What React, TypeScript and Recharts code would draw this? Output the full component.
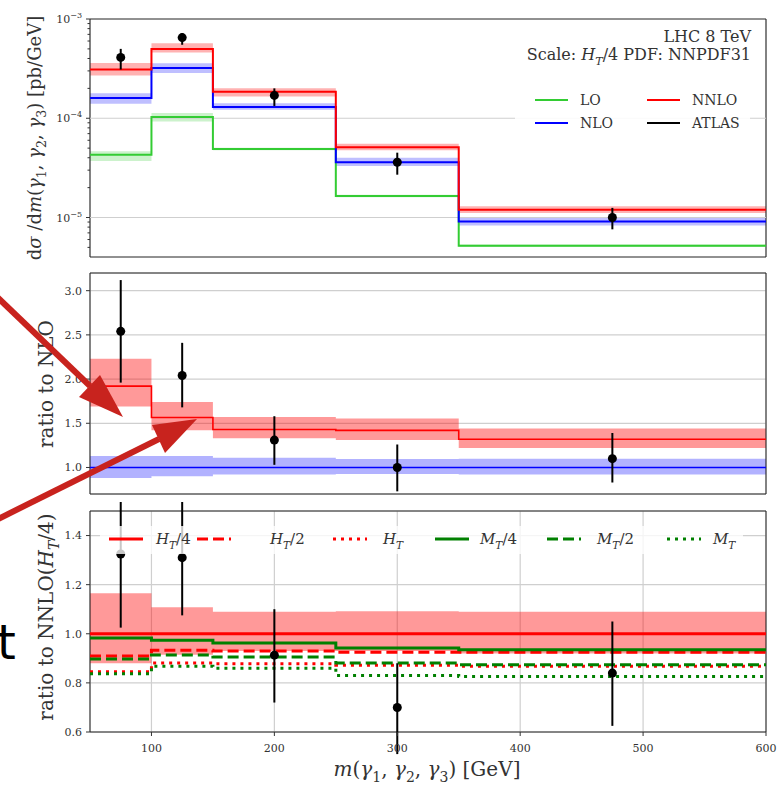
import React from "react";
import {
  ComposedChart,
  Line,
  Area,
  Scatter,
  ErrorBar,
  XAxis,
  YAxis,
  CartesianGrid,
  ReferenceLine,
  ReferenceArea,
  Legend,
} from "recharts";

// bin edges of m(γ1,γ2,γ3) in GeV
const binEdges = [50, 100, 150, 250, 350, 600];
const atlasX = [75, 125, 200, 300, 475];

// top panel: dσ/dm [pb/GeV]
const loCentral = [4.3e-5, 1.03e-4, 4.9e-5, 1.65e-5, 5.2e-6];
const loLow = [3.7e-5, 9.3e-5, 4.75e-5, 1.6e-5, 5.05e-6];
const loHigh = [4.65e-5, 1.13e-4, 5.05e-5, 1.7e-5, 5.35e-6];
const nloCentral = [1.6e-4, 3.2e-4, 1.3e-4, 3.6e-5, 9.1e-6];
const nloLow = [1.4e-4, 2.85e-4, 1.22e-4, 3.3e-5, 8.3e-6];
const nloHigh = [1.79e-4, 3.59e-4, 1.42e-4, 4.0e-5, 1.0e-5];
const nnloCentral = [3.1e-4, 5.0e-4, 1.85e-4, 5.1e-5, 1.2e-5];
const nnloLow = [2.7e-4, 4.6e-4, 1.66e-4, 4.75e-5, 1.11e-5];
const nnloHigh = [3.6e-4, 5.7e-4, 2.01e-4, 5.55e-5, 1.3e-5];
const atlasXs = [4.1e-4, 6.5e-4, 1.7e-4, 3.6e-5, 1.0e-5];
const atlasXsLow = [3.1e-4, 5.5e-4, 1.33e-4, 2.7e-5, 7.6e-6];
const atlasXsHigh = [5.0e-4, 7.2e-4, 2.0e-4, 4.5e-5, 1.25e-5];
const logTicks = [
  5e-6, 6e-6, 7e-6, 8e-6, 9e-6, 1e-5,
  2e-5, 3e-5, 4e-5, 5e-5, 6e-5, 7e-5, 8e-5, 9e-5, 1e-4,
  2e-4, 3e-4, 4e-4, 5e-4, 6e-4, 7e-4, 8e-4, 9e-4, 1e-3,
];

// middle panel: ratio to NLO
const nnloRatio = [1.92, 1.565, 1.43, 1.42, 1.32];
const nnloRatioLow = [1.69, 1.42, 1.33, 1.31, 1.22];
const nnloRatioHigh = [2.23, 1.74, 1.57, 1.555, 1.44];
const nloRatio = [1, 1, 1, 1, 1];
const nloRatioLow = [0.88, 0.9, 0.92, 0.925, 0.92];
const nloRatioHigh = [1.13, 1.13, 1.11, 1.095, 1.1];
const atlasRatio = [2.54, 2.04, 1.31, 1.0, 1.1];
const atlasRatioLow = [1.96, 1.68, 1.03, 0.73, 0.83];
const atlasRatioHigh = [3.12, 2.41, 1.58, 1.26, 1.39];
const ratioTicks = [1.0, 1.5, 2.0, 2.5, 3.0];

// bottom panel: ratio to NNLO(H_T/4), scale choices
const htQuarter = [1, 1, 1, 1, 1];
const htQuarterLow = [0.88, 0.915, 0.93, 0.93, 0.92];
const htQuarterHigh = [1.165, 1.108, 1.09, 1.092, 1.09];
const htHalf = [0.91, 0.933, 0.93, 0.925, 0.925];
const htFull = [0.845, 0.881, 0.878, 0.872, 0.868];
const mtQuarter = [0.983, 0.974, 0.962, 0.942, 0.935];
const mtHalf = [0.897, 0.914, 0.905, 0.881, 0.874];
const mtFull = [0.837, 0.868, 0.86, 0.83, 0.826];
const atlasScale = [1.325, 1.31, 0.913, 0.7, 0.84];
const atlasScaleLow = [1.025, 1.075, 0.72, 0.51, 0.625];
const atlasScaleHigh = [1.63, 1.55, 1.1, 0.88, 1.05];
const scaleTicks = [0.6, 0.8, 1.0, 1.2, 1.4];
const massTicks = [100, 200, 300, 400, 500, 600];

const FONT = "DejaVu Serif";
const INK = "#333";
const GRID = "#cfcfcf";
const ARROW = "#c8231e";

const stepRows = (vals: number[]) =>
  binEdges.map((x, i) => ({ x, y: vals[Math.min(i, vals.length - 1)] }));
const bandRows = (lo: number[], hi: number[]) =>
  binEdges.map((x, i) => {
    const j = Math.min(i, lo.length - 1);
    return { x, r: [lo[j], hi[j]] };
  });
const pointRows = (v: number[], lo: number[], hi: number[]) =>
  atlasX.map((x, i) => ({ x, y: v[i], err: [v[i] - lo[i], hi[i] - v[i]] }));

type Part = { t: string; i?: boolean; sub?: boolean };

const MathSpans = ({ parts, size }: { parts: Part[]; size: number }) => {
  let shifted = false;
  return (
    <>
      {parts.map((p, k) => {
        let dy: number | undefined;
        if (p.sub && !shifted) {
          dy = size * 0.3;
          shifted = true;
        } else if (!p.sub && shifted) {
          dy = -size * 0.3;
          shifted = false;
        }
        return (
          <tspan key={k} dy={dy} fontStyle={p.i ? "italic" : "normal"} fontSize={p.sub ? size * 0.7 : size}>
            {p.t}
          </tspan>
        );
      })}
    </>
  );
};

const gammas: Part[] = [
  { t: "(" }, { t: "γ", i: true }, { t: "1", sub: true }, { t: ", " },
  { t: "γ", i: true }, { t: "2", sub: true }, { t: ", " },
  { t: "γ", i: true }, { t: "3", sub: true },
];
const yLabelTop: Part[] = [{ t: "d" }, { t: "σ", i: true }, { t: " /d" }, { t: "m", i: true }, ...gammas, { t: ") [pb/GeV]" }];
const yLabelMid: Part[] = [{ t: "ratio to NLO" }];
const yLabelBot: Part[] = [{ t: "ratio to NNLO(" }, { t: "H", i: true }, { t: "T", i: true, sub: true }, { t: "/4)" }];
const xLabel: Part[] = [{ t: "m", i: true }, ...gammas, { t: ") [GeV]" }];
const scaleText: Part[] = [{ t: "Scale: " }, { t: "H", i: true }, { t: "T", i: true, sub: true }, { t: "/4 PDF: NNPDF31" }];

const VLabel = ({ lx, ly, parts, size = 20 }: any) => (
  <text transform={`rotate(-90, ${lx}, ${ly})`} x={lx} y={ly} textAnchor="middle" fontFamily={FONT} fontSize={size} fill={INK}>
    <MathSpans parts={parts} size={size} />
  </text>
);
const HLabel = ({ lx, ly, parts }: any) => (
  <text x={lx} y={ly} textAnchor="middle" fontFamily={FONT} fontSize={20} fill={INK}>
    <MathSpans parts={parts} size={20} />
  </text>
);

const LogTick = (props: any) => {
  const { y, payload } = props;
  const lg = Math.log10(payload.value);
  const exp = Math.round(lg);
  const major = Math.abs(lg - exp) < 1e-6;
  return (
    <g>
      <line x1={90 - (major ? 4 : 2.5)} x2={90} y1={y} y2={y} stroke={INK} />
      {major && (
        <text x={82} y={y + 4} textAnchor="end" fontFamily={FONT} fontSize={11} fill={INK}>
          10<tspan dy={-5} fontSize={8}>{"−" + -exp}</tspan>
        </text>
      )}
    </g>
  );
};

const Dot = (p: any) => <circle cx={p.cx} cy={p.cy} r={4.5} fill="#000" />;

const tickFont = { fontSize: 11, fill: INK, fontFamily: FONT };

const topItems = [
  { name: "LO", color: "#33cc33", col: 0, row: 0 },
  { name: "NNLO", color: "#ff0000", col: 1, row: 0 },
  { name: "NLO", color: "#0000ff", col: 0, row: 1 },
  { name: "ATLAS", color: "#000000", col: 1, row: 1 },
];

const TopLegend = () => (
  <svg width={260} height={115} style={{ display: "block" }}>
    <text x={251} y={17} textAnchor="end" fontFamily={FONT} fontSize={16} fill={INK}>LHC 8 TeV</text>
    <text x={251} y={35} textAnchor="end" fontFamily={FONT} fontSize={16} fill={INK}>
      <MathSpans parts={scaleText} size={16} />
    </text>
    <rect x={15} y={52} width={235} height={60} fill="#fff" fillOpacity={0.88} />
    {topItems.map((it) => {
      const x0 = 35 + it.col * 112;
      const y0 = 75 + it.row * 23;
      return (
        <g key={it.name}>
          <line x1={x0} x2={x0 + 33} y1={y0} y2={y0} stroke={it.color} strokeWidth={2} />
          <text x={x0 + 45} y={y0 + 5} fontFamily={FONT} fontSize={14} fill={INK}>{it.name}</text>
        </g>
      );
    })}
  </svg>
);

const scaleItems = [
  { label: [{ t: "H", i: true }, { t: "T", i: true, sub: true }, { t: "/4" }], color: "#ff0000", dash: undefined, x: 9, tx: 56 },
  { label: [{ t: "H", i: true }, { t: "T", i: true, sub: true }, { t: "/2" }], color: "#ff0000", dash: "11 5", x: 97, tx: 170 },
  { label: [{ t: "H", i: true }, { t: "T", i: true, sub: true }], color: "#ff0000", dash: "3 5", x: 233, tx: 283 },
  { label: [{ t: "M", i: true }, { t: "T", i: true, sub: true }, { t: "/4" }], color: "#008000", dash: undefined, x: 335, tx: 380 },
  { label: [{ t: "M", i: true }, { t: "T", i: true, sub: true }, { t: "/2" }], color: "#008000", dash: "11 5", x: 447, tx: 497 },
  { label: [{ t: "M", i: true }, { t: "T", i: true, sub: true }], color: "#008000", dash: "3 5", x: 567, tx: 613 },
];

const ScaleLegend = () => (
  <svg width={643} height={28} style={{ display: "block" }}>
    <rect x={0} y={0} width={643} height={28} fill="#fff" fillOpacity={0.78} />
    {scaleItems.map((it, k) => (
      <g key={k}>
        <line x1={it.x} x2={it.x + 34} y1={13} y2={13} stroke={it.color} strokeWidth={3} strokeDasharray={it.dash} />
        <text x={it.tx} y={18} fontFamily={FONT} fontSize={15} fill={INK}>
          <MathSpans parts={it.label as Part[]} size={15} />
        </text>
      </g>
    ))}
  </svg>
);

const TopPanel = () => (
  <ComposedChart width={782} height={265} margin={{ top: 19, right: 16, bottom: 0, left: 0 }}>
    <CartesianGrid horizontal={false} stroke={GRID} strokeWidth={1.2} />
    <XAxis type="number" dataKey="x" domain={[50, 600]} ticks={massTicks} interval={0} allowDataOverflow
      tick={false} tickSize={4} tickLine={{ stroke: INK }} axisLine={false} height={8} />
    <YAxis type="number" scale="log" domain={[4e-6, 1e-3]} allowDataOverflow ticks={logTicks} interval={0}
      tick={<LogTick />} tickLine={false} axisLine={false} width={90}
      label={<VLabel lx={41} ly={138} parts={yLabelTop} size={18} />} />
    <ReferenceLine y={1e-5} stroke={GRID} strokeWidth={1.2} />
    <ReferenceLine y={1e-4} stroke={GRID} strokeWidth={1.2} />
    <Area data={bandRows(loLow, loHigh)} dataKey="r" type="stepAfter" fill="#33cc33" fillOpacity={0.25} stroke="none" isAnimationActive={false} />
    <Area data={bandRows(nloLow, nloHigh)} dataKey="r" type="stepAfter" fill="#0000ff" fillOpacity={0.25} stroke="none" isAnimationActive={false} />
    <Area data={bandRows(nnloLow, nnloHigh)} dataKey="r" type="stepAfter" fill="#ff0000" fillOpacity={0.3} stroke="none" isAnimationActive={false} />
    <Line data={stepRows(loCentral)} dataKey="y" name="LO" type="stepAfter" stroke="#33cc33" strokeWidth={2} dot={false} isAnimationActive={false} />
    <Line data={stepRows(nloCentral)} dataKey="y" name="NLO" type="stepAfter" stroke="#0000ff" strokeWidth={2} dot={false} isAnimationActive={false} />
    <Line data={stepRows(nnloCentral)} dataKey="y" name="NNLO" type="stepAfter" stroke="#ff0000" strokeWidth={2} dot={false} isAnimationActive={false} />
    <Scatter data={pointRows(atlasXs, atlasXsLow, atlasXsHigh)} dataKey="y" name="ATLAS" shape={<Dot />} isAnimationActive={false}>
      <ErrorBar dataKey="err" direction="y" width={0} stroke="#000" strokeWidth={2} isAnimationActive={false} />
    </Scatter>
    <ReferenceArea x1={50} x2={600} y1={4e-6} y2={1e-3} fill="none" stroke="#222" strokeWidth={1} />
    <Legend content={() => <TopLegend />} layout="horizontal" verticalAlign="middle" align="center"
      wrapperStyle={{ position: "absolute", left: 500, top: 25, width: 260, height: 115 }} />
  </ComposedChart>
);

const MidPanel = () => (
  <ComposedChart width={782} height={237} margin={{ top: 8, right: 16, bottom: 0, left: 0 }}>
    <CartesianGrid stroke={GRID} strokeWidth={1.2} />
    <XAxis type="number" dataKey="x" domain={[50, 600]} ticks={massTicks} interval={0} allowDataOverflow
      tick={false} tickSize={4} tickLine={{ stroke: INK }} axisLine={false} height={8} />
    <YAxis type="number" domain={[0.7, 3.2]} allowDataOverflow ticks={ratioTicks} interval={0}
      tickFormatter={(v: number) => v.toFixed(1)} tick={tickFont} tickSize={4} tickMargin={4}
      tickLine={{ stroke: INK }} axisLine={false} width={90}
      label={<VLabel lx={53} ly={119} parts={yLabelMid} />} />
    <Area data={bandRows(nloRatioLow, nloRatioHigh)} dataKey="r" type="stepAfter" fill="#0000ff" fillOpacity={0.3} stroke="none" isAnimationActive={false} />
    <Area data={bandRows(nnloRatioLow, nnloRatioHigh)} dataKey="r" type="stepAfter" fill="#ff0000" fillOpacity={0.4} stroke="none" isAnimationActive={false} />
    <Line data={stepRows(nloRatio)} dataKey="y" type="stepAfter" stroke="#0000ff" strokeWidth={1.6} dot={false} isAnimationActive={false} />
    <Line data={stepRows(nnloRatio)} dataKey="y" type="stepAfter" stroke="#ff0000" strokeWidth={1.6} dot={false} isAnimationActive={false} />
    <Scatter data={pointRows(atlasRatio, atlasRatioLow, atlasRatioHigh)} dataKey="y" shape={<Dot />} isAnimationActive={false}>
      <ErrorBar dataKey="err" direction="y" width={0} stroke="#000" strokeWidth={2} isAnimationActive={false} />
    </Scatter>
    <ReferenceArea x1={50} x2={600} y1={0.7} y2={3.2} fill="none" stroke="#222" strokeWidth={1} />
  </ComposedChart>
);

const BotPanel = () => (
  <ComposedChart width={782} height={283} margin={{ top: 9, right: 16, bottom: 0, left: 0 }}>
    <CartesianGrid stroke={GRID} strokeWidth={1.2} />
    <XAxis type="number" dataKey="x" domain={[50, 600]} ticks={massTicks} interval={0} allowDataOverflow
      tick={tickFont} tickSize={4} tickMargin={8} tickLine={{ stroke: INK }} axisLine={false} height={53}
      label={<HLabel lx={427} ly={274} parts={xLabel} />} />
    <YAxis type="number" domain={[0.6, 1.5]} allowDataOverflow ticks={scaleTicks} interval={0}
      tickFormatter={(v: number) => v.toFixed(1)} tick={tickFont} tickSize={4} tickMargin={4}
      tickLine={{ stroke: INK }} axisLine={false} width={90}
      label={<VLabel lx={53} ly={115} parts={yLabelBot} />} />
    <Area data={bandRows(htQuarterLow, htQuarterHigh)} dataKey="r" type="stepAfter" fill="#ff0000" fillOpacity={0.4} stroke="none" isAnimationActive={false} />
    <Line data={stepRows(htQuarter)} dataKey="y" type="stepAfter" stroke="#ff0000" strokeWidth={3} dot={false} isAnimationActive={false} />
    <Line data={stepRows(htHalf)} dataKey="y" type="stepAfter" stroke="#ff0000" strokeWidth={3} strokeDasharray="11 5" dot={false} isAnimationActive={false} />
    <Line data={stepRows(htFull)} dataKey="y" type="stepAfter" stroke="#ff0000" strokeWidth={3} strokeDasharray="3 5" dot={false} isAnimationActive={false} />
    <Line data={stepRows(mtQuarter)} dataKey="y" type="stepAfter" stroke="#008000" strokeWidth={3} dot={false} isAnimationActive={false} />
    <Line data={stepRows(mtHalf)} dataKey="y" type="stepAfter" stroke="#008000" strokeWidth={3} strokeDasharray="11 5" dot={false} isAnimationActive={false} />
    <Line data={stepRows(mtFull)} dataKey="y" type="stepAfter" stroke="#008000" strokeWidth={3} strokeDasharray="3 5" dot={false} isAnimationActive={false} />
    <Scatter data={pointRows(atlasScale, atlasScaleLow, atlasScaleHigh)} dataKey="y" shape={<Dot />} isAnimationActive={false}>
      <ErrorBar dataKey="err" direction="y" width={0} stroke="#000" strokeWidth={2} isAnimationActive={false} />
    </Scatter>
    <ReferenceArea x1={50} x2={600} y1={0.6} y2={1.5} fill="none" stroke="#222" strokeWidth={1} />
    <Legend content={() => <ScaleLegend />} layout="horizontal" verticalAlign="middle" align="center"
      wrapperStyle={{ position: "absolute", left: 100, top: 24, width: 643, height: 28 }} />
  </ComposedChart>
);

export default function App() {
  return (
    <div style={{ position: "absolute", left: 0, top: 0, width: 782, height: 785, background: "#fff", overflow: "hidden" }}>
      <div style={{ position: "absolute", left: 0, top: 0 }}><TopPanel /></div>
      <div style={{ position: "absolute", left: 0, top: 265 }}><MidPanel /></div>
      <div style={{ position: "absolute", left: 0, top: 502 }}><BotPanel /></div>
      <svg width={782} height={785} style={{ position: "absolute", left: 0, top: 0, pointerEvents: "none", zIndex: 5 }}>
        <line x1={-6} y1={294} x2={90} y2={386} stroke={ARROW} strokeWidth={6} />
        <polygon points="123,417 79,397 100,375" fill={ARROW} />
        <line x1={-10} y1={523} x2={159} y2={439} stroke={ARROW} strokeWidth={6} />
        <polygon points="197,419 152,425 165,453" fill={ARROW} />
        <text x={-3} y={659} fontFamily="DejaVu Sans" fontSize={48} fill="#000">t</text>
      </svg>
    </div>
  );
}
